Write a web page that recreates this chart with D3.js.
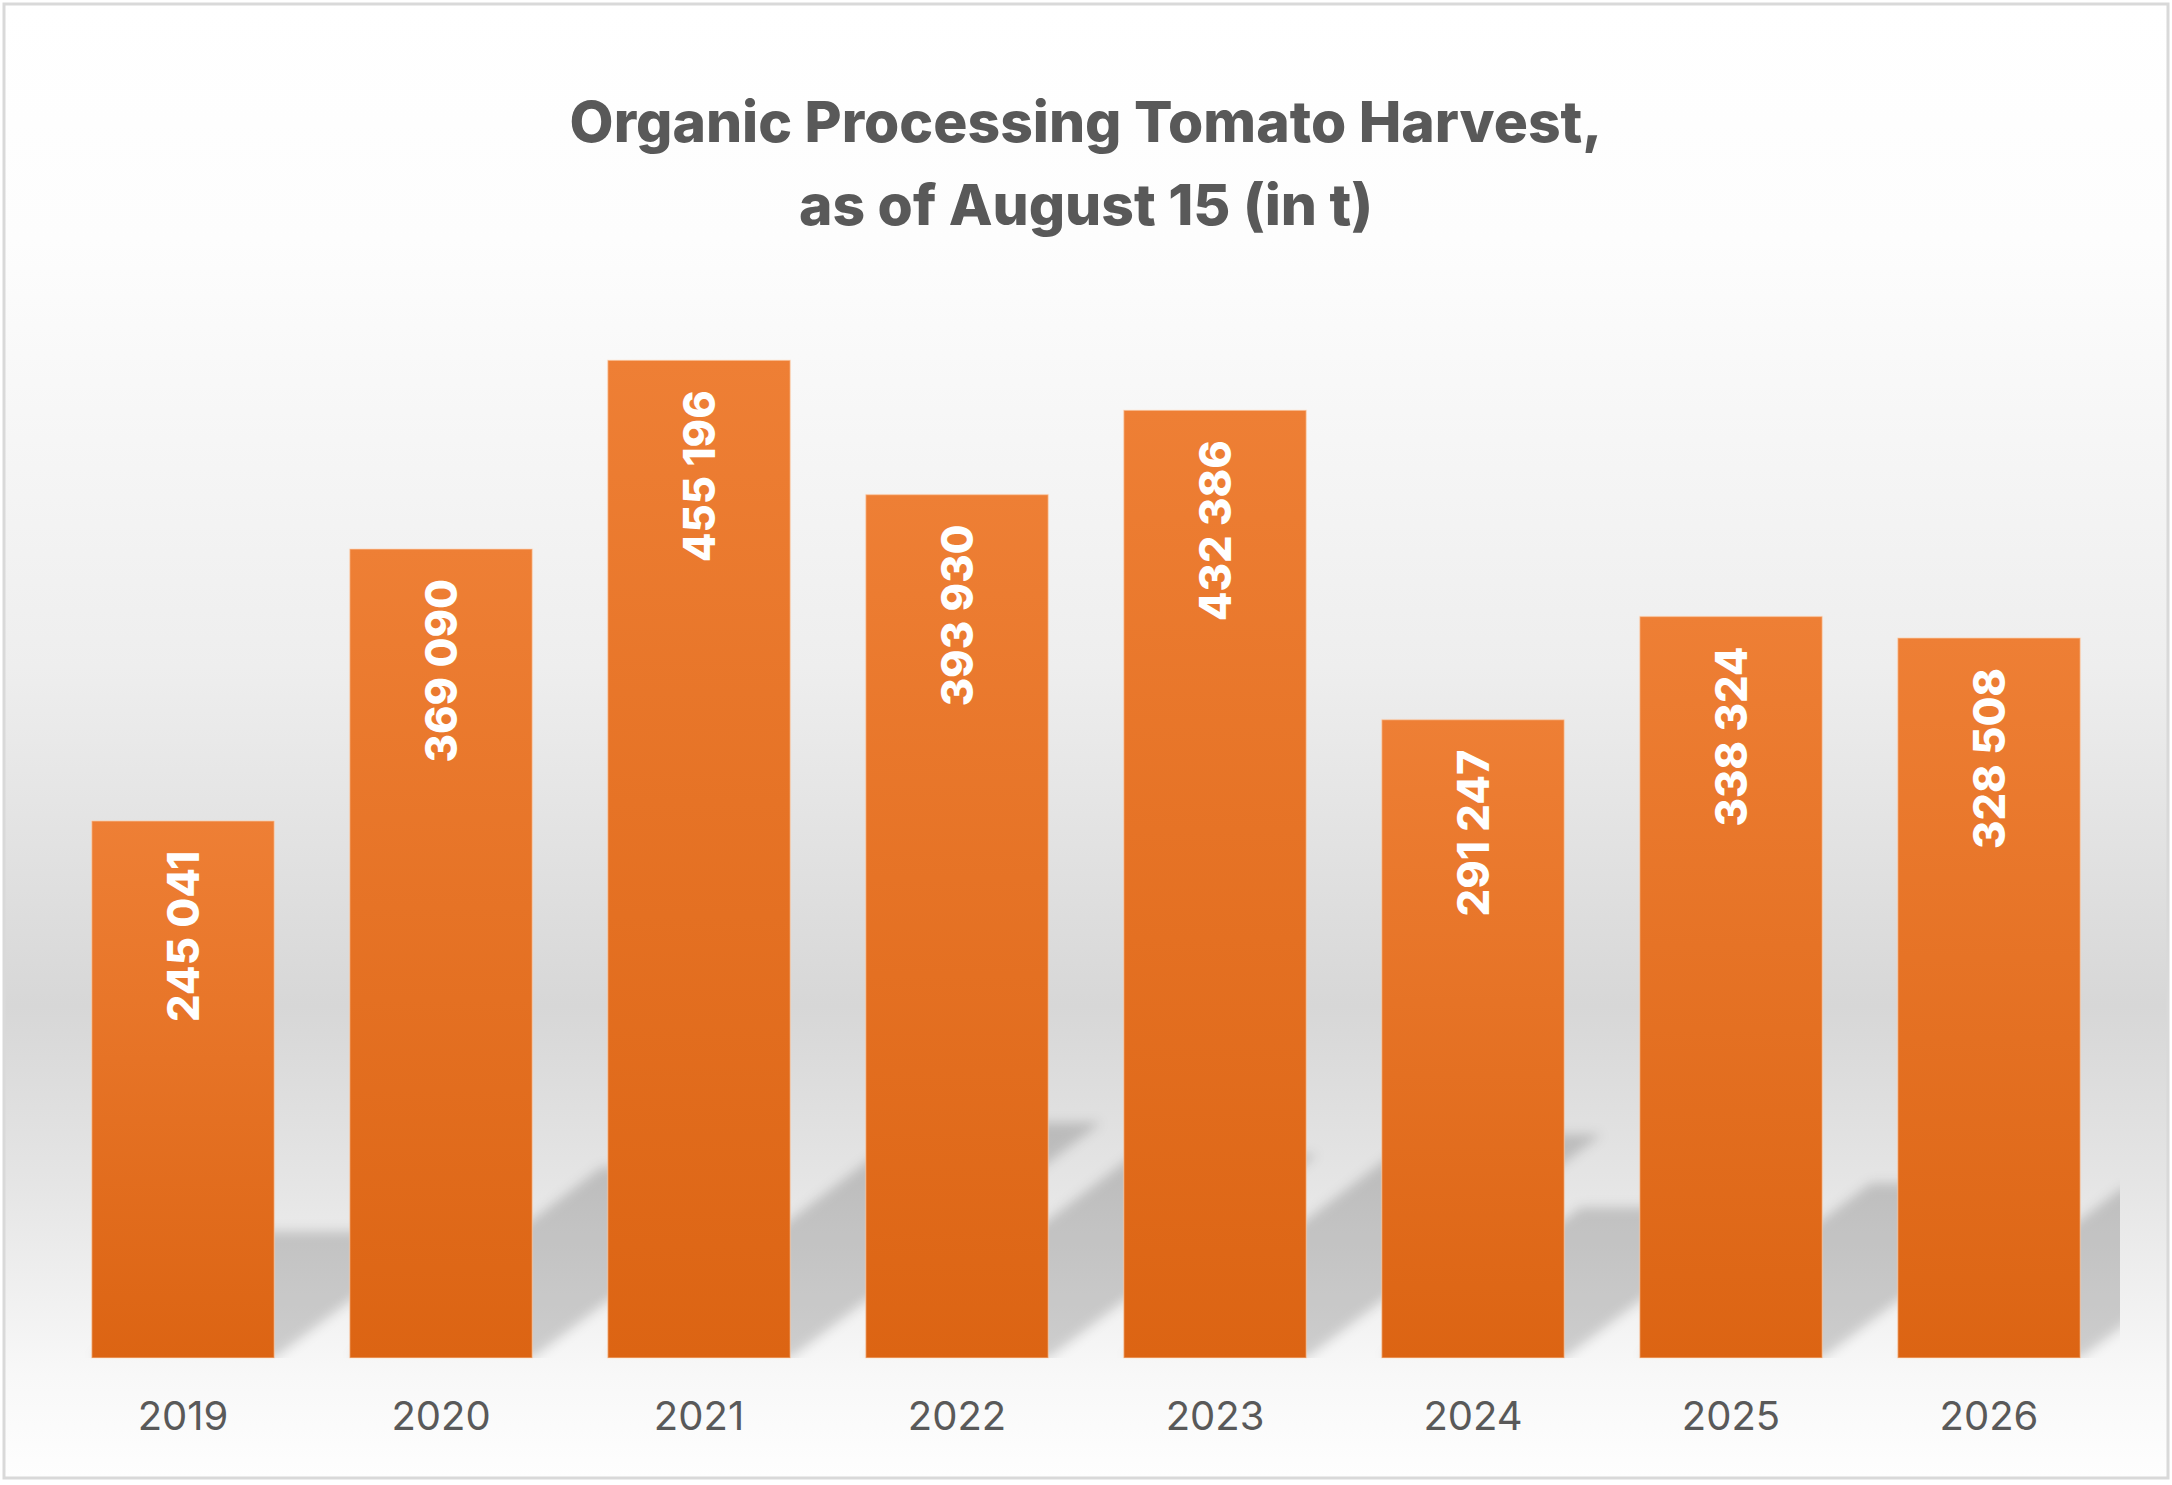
<!DOCTYPE html>
<html>
<head>
<meta charset="utf-8">
<script src="https://cdn.jsdelivr.net/npm/d3@7"></script>
<style>
  body { margin: 0; background: #fff; }
</style>
</head>
<body>
<div id="chart"></div>
<script>
// chart data
const years = ['2019', '2020', '2021', '2022', '2023', '2024', '2025', '2026'];
const harvest = [245041, 369090, 455196, 393930, 432386, 291247, 338324, 328508];
const titleLines = ['Organic Processing Tomato Harvest,', 'as of August 15 (in t)'];
const yTicks = [0, 500000];

const width = 2172;
const height = 1485;
const fontFamily = 'Inter, "Open Sans", sans-serif';

const data = years.map((yr, i) => ({ year: yr, value: harvest[i] }));

const svg = d3.select('#chart')
  .append('svg')
  .attr('width', width)
  .attr('height', height);

const defs = svg.append('defs');

// chart background: white on top, grey band lower down, light again at bottom
const bg = defs.append('linearGradient')
  .attr('id', 'bg-grad')
  .attr('x1', 0).attr('y1', 0).attr('x2', 0).attr('y2', 1);
[[0, '#ffffff'], [0.16, '#fdfdfd'], [0.45, '#eeeeee'], [0.68, '#d7d7d7'],
 [0.8, '#e5e5e5'], [0.93, '#f8f8f8'], [1, '#fefefe']].forEach(s => {
  bg.append('stop').attr('offset', s[0]).attr('stop-color', s[1]);
});

// bar fill, lighter orange at the top
const barGrad = defs.append('linearGradient')
  .attr('id', 'bar-grad')
  .attr('x1', 0).attr('y1', 0).attr('x2', 0).attr('y2', 1);
barGrad.append('stop').attr('offset', 0).attr('stop-color', '#ee7f35');
barGrad.append('stop').attr('offset', 1).attr('stop-color', '#dc6413');

const blur = defs.append('filter')
  .attr('id', 'shadow-blur')
  .attr('x', '-30%').attr('y', '-30%')
  .attr('width', '160%').attr('height', '160%');
blur.append('feGaussianBlur').attr('stdDeviation', 6);

svg.append('rect')
  .attr('x', 4).attr('y', 4)
  .attr('width', width - 8).attr('height', height - 11)
  .attr('fill', 'url(#bg-grad)')
  .attr('stroke', '#d9d9d9')
  .attr('stroke-width', 3);

// scales
const x = d3.scaleBand()
  .domain(years)
  .range([54, 2118])
  .paddingInner(0.292)
  .paddingOuter(0.146);

const y = d3.scaleLinear()
  .domain(d3.extent(yTicks))
  .range([1358, 262]);

const base = y(0);

defs.append('clipPath')
  .attr('id', 'plot-clip')
  .append('rect')
  .attr('x', 54).attr('y', y(500000))
  .attr('width', 2120 - 54).attr('height', base - y(500000));

// perspective shadows lying behind the bars, leaning up to the right
const lean = 1.32;
const shadowRatio = 0.236;

svg.append('g')
  .attr('clip-path', 'url(#plot-clip)')
  .append('g')
  .attr('filter', 'url(#shadow-blur)')
  .selectAll('polygon')
  .data(data)
  .enter().append('polygon')
  .attr('points', d => {
    const l = x(d.year);
    const r = l + x.bandwidth();
    const h = (base - y(d.value)) * shadowRatio;
    return [[l, base], [r, base], [r + h * lean, base - h], [l + h * lean, base - h]]
      .map(p => p.join(',')).join(' ');
  })
  .attr('fill', '#000')
  .attr('fill-opacity', 0.17);

// bars
svg.append('g')
  .selectAll('rect')
  .data(data)
  .enter().append('rect')
  .attr('x', d => x(d.year))
  .attr('y', d => y(d.value))
  .attr('width', x.bandwidth())
  .attr('height', d => base - y(d.value))
  .attr('fill', 'url(#bar-grad)')
  .attr('stroke', 'rgba(255,225,200,0.45)')
  .attr('stroke-width', 1.5);

// value labels, rotated, inside the top of each bar
const fmt = d3.formatLocale({ decimal: '.', thousands: ' ', grouping: [3], currency: ['', ''] }).format(',');

const labels = svg.append('g')
  .selectAll('text')
  .data(data)
  .enter().append('text')
  .attr('transform', d => `translate(${x(d.year) + x.bandwidth() / 2},${y(d.value) + 30}) rotate(-90)`)
  .attr('text-anchor', 'end')
  .attr('dy', '0.36em')
  .attr('fill', '#ffffff')
  .attr('font-family', fontFamily)
  .attr('font-weight', 800)
  .attr('font-size', 44)
  .text(d => fmt(d.value));

// fit the label size to the reference length of "455 196"
const probe = labels.filter(d => d.year === '2021').node();
const labelSize = 44 * 172 / probe.getComputedTextLength();
labels.attr('font-size', labelSize);

// category axis
const xAxis = svg.append('g')
  .attr('transform', `translate(0,${base})`)
  .call(d3.axisBottom(x).tickSize(0).tickPadding(44));

xAxis.select('.domain').remove();
xAxis.selectAll('text')
  .attr('fill', '#595959')
  .attr('font-family', fontFamily)
  .attr('font-size', 40)
  .attr('font-weight', 400);

// title
const title = svg.append('g')
  .selectAll('text')
  .data(titleLines)
  .enter().append('text')
  .attr('x', width / 2)
  .attr('y', (d, i) => 142 + i * 83)
  .attr('text-anchor', 'middle')
  .attr('fill', '#595959')
  .attr('font-family', fontFamily)
  .attr('font-weight', 800)
  .attr('font-size', 56)
  .text(d => d);

const titleSize = 56 * 1033 / title.node().getComputedTextLength();
title.attr('font-size', titleSize);
</script>
</body>
</html>
